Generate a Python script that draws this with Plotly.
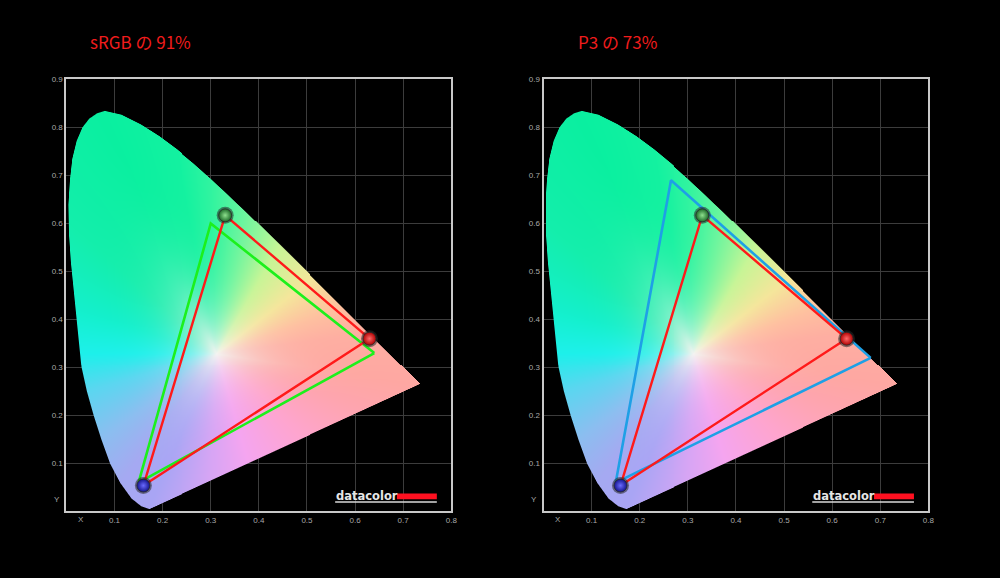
import base64
import struct
import zlib

import numpy as np
import plotly.graph_objects as go

# ---------------- data ----------------
# spectral locus outline (spectral order: violet end -> peak -> red end)
locus_x = [0.172, 0.155, 0.135, 0.112, 0.091, 0.073, 0.057, 0.043, 0.032, 0.026,
           0.020, 0.015, 0.010, 0.006, 0.005, 0.008, 0.013, 0.022, 0.034, 0.048,
           0.064, 0.080, 0.1142, 0.1547, 0.1929, 0.2296, 0.2658, 0.3016, 0.3373,
           0.3731, 0.4087, 0.4441, 0.4788, 0.5125, 0.5448, 0.5752, 0.6029, 0.6270,
           0.6482, 0.6658, 0.6801, 0.6915, 0.7006, 0.7079, 0.7140, 0.7190, 0.7230,
           0.7260, 0.7300, 0.7347]
locus_y = [0.006, 0.012, 0.028, 0.060, 0.100, 0.150, 0.200, 0.250, 0.300, 0.360,
           0.420, 0.470, 0.520, 0.580, 0.640, 0.690, 0.735, 0.772, 0.800, 0.818,
           0.829, 0.834, 0.8262, 0.8059, 0.7816, 0.7543, 0.7243, 0.6923, 0.6589,
           0.6245, 0.5896, 0.5547, 0.5202, 0.4866, 0.4544, 0.4242, 0.3965, 0.3725,
           0.3514, 0.3340, 0.3197, 0.3083, 0.2993, 0.2920, 0.2859, 0.2809, 0.2770,
           0.2740, 0.2700, 0.2653]
white_x, white_y = 0.3127, 0.3290

# fill colours of the diagram by direction from the white point (degrees)
hue_deg = [7.9, 19.9, 38.3, 59.8, 78.4, 91.7, 101.0, 114.7, 138.7, 162.7, 180.0,
           196.0, 216.7, 233.0, 246.4, 267.0, 286.0, 317.0, 339.0, 351.4]
hue_r = [255, 255, 245, 200, 110, 50, 20, 10, 20, 20, 30, 90, 140, 165, 170, 215, 245, 255, 255, 255]
hue_g = [175, 192, 230, 245, 246, 244, 242, 240, 238, 240, 240, 215, 190, 170, 165, 165, 165, 165, 165, 168]
hue_b = [162, 160, 155, 150, 158, 160, 160, 160, 172, 205, 235, 240, 240, 242, 245, 245, 240, 205, 175, 162]
white_rgb = [244, 244, 242]

# gamut triangles (R, G, B vertices)
measured_x = [0.630, 0.330, 0.160]
measured_y = [0.360, 0.617, 0.054]
srgb_x = [0.640, 0.300, 0.150]
srgb_y = [0.330, 0.600, 0.060]
p3_x = [0.680, 0.265, 0.150]
p3_y = [0.320, 0.690, 0.060]

titles = ["sRGB の 91%", "P3 の 73%"]
x_ticks = [0.1, 0.2, 0.3, 0.4, 0.5, 0.6, 0.7, 0.8]
y_ticks = [0.1, 0.2, 0.3, 0.4, 0.5, 0.6, 0.7, 0.8, 0.9]
x_range = [0.0, 0.8]
y_range = [0.0, 0.9]

# ---------------- build the horseshoe image ----------------
NX, NY = 388, 435
dxp = (x_range[1] - x_range[0]) / NX
dyp = (y_range[1] - y_range[0]) / NY
xs = x_range[0] + (np.arange(NX) + 0.5) * dxp
ys = y_range[0] + (np.arange(NY) + 0.5) * dyp
X, Y = np.meshgrid(xs, ys)

bx = np.array(locus_x + [locus_x[0]])
by = np.array(locus_y + [locus_y[0]])
t = np.linspace(0, 1, 60, endpoint=False)
px = np.concatenate([bx[k] + (bx[k + 1] - bx[k]) * t for k in range(len(bx) - 1)])
py = np.concatenate([by[k] + (by[k + 1] - by[k]) * t for k in range(len(by) - 1)])
ang_b = np.degrees(np.arctan2(py - white_y, px - white_x)) % 360
dist_b = np.hypot(px - white_x, py - white_y)

ang = np.degrees(np.arctan2(Y - white_y, X - white_x)) % 360
d = np.hypot(X - white_x, Y - white_y)
D = np.interp(ang, ang_b, dist_b, period=360)
r = np.clip(d / D, 0, 1)
alpha = np.clip((D - d) / dxp + 0.5, 0, 1)
f = 1 - (1 - r) ** 4

rgba = np.zeros((NY, NX, 4), dtype=np.uint8)
for c, anchors in enumerate([hue_r, hue_g, hue_b]):
    a = np.interp(ang, hue_deg, anchors, period=360)
    w = white_rgb[c]
    rgba[..., c] = np.clip(w + (a - w) * f, 0, 255).astype(np.uint8)
rgba[..., 3] = (alpha * 255).astype(np.uint8)


def png_data_uri(arr):
    h, w, _ = arr.shape
    raw = b"".join(b"\x00" + arr[j].tobytes() for j in range(h))

    def chunk(tag, data):
        body = tag + data
        return struct.pack(">I", len(data)) + body + struct.pack(">I", zlib.crc32(body) & 0xFFFFFFFF)

    png = (b"\x89PNG\r\n\x1a\n"
           + chunk(b"IHDR", struct.pack(">IIBBBBB", w, h, 8, 6, 0, 0, 0))
           + chunk(b"IDAT", zlib.compress(raw, 9))
           + chunk(b"IEND", b""))
    return "data:image/png;base64," + base64.b64encode(png).decode()


uri = png_data_uri(rgba)

# ---------------- figure ----------------
fig = go.Figure()

panels = [
    dict(x="x", y="y", ref_x=srgb_x, ref_y=srgb_y, ref_color="#1cf01c",
         xdom=[0.0668, 0.4540], title_x=0.141),
    dict(x="x2", y="y2", ref_x=p3_x, ref_y=p3_y, ref_color="#1ea0e6",
         xdom=[0.5468, 0.9340], title_x=0.621),
]
ydom = [0.1159, 0.8685]

sphere_outer = ["#b00000", "#1c6a28", "#14148c"]
sphere_inner = ["#ff6a6a", "#8ee08e", "#6a6aff"]

annotations = []
shapes = []
for i, p in enumerate(panels):
    fig.add_trace(go.Image(source=uri, x0=xs[0], y0=ys[0], dx=dxp, dy=dyp,
                           xaxis=p["x"], yaxis=p["y"], hoverinfo="skip"))
    fig.add_trace(go.Scatter(x=p["ref_x"] + p["ref_x"][:1], y=p["ref_y"] + p["ref_y"][:1],
                             mode="lines", line=dict(color=p["ref_color"], width=2.6),
                             xaxis=p["x"], yaxis=p["y"], hoverinfo="skip"))
    fig.add_trace(go.Scatter(x=measured_x + measured_x[:1], y=measured_y + measured_y[:1],
                             mode="lines", line=dict(color="#ff1a1a", width=2.4),
                             xaxis=p["x"], yaxis=p["y"], hoverinfo="skip"))
    fig.add_trace(go.Scatter(x=measured_x, y=measured_y, mode="markers",
                             marker=dict(size=17, color="rgba(40,40,40,0.55)", line=dict(width=0)),
                             xaxis=p["x"], yaxis=p["y"], hoverinfo="skip"))
    fig.add_trace(go.Scatter(x=measured_x, y=measured_y, mode="markers",
                             marker=dict(size=13, color=sphere_outer,
                                         gradient=dict(type="radial", color=sphere_inner),
                                         line=dict(width=0.8, color="#2a2a2a")),
                             xaxis=p["x"], yaxis=p["y"], hoverinfo="skip"))

    annotations.append(dict(text=titles[i], xref="paper", yref="paper", x=p["title_x"], y=0.934,
                            showarrow=False, xanchor="center", yanchor="middle",
                            font=dict(family="Noto Sans CJK JP", size=17, color="#f01c1c")))
    annotations.append(dict(text="X", xref=p["x"], yref="paper", x=0.031, y=0.102,
                            showarrow=False, xanchor="center", yanchor="middle",
                            font=dict(family="Liberation Sans", size=8, color="#a8a8a8")))
    annotations.append(dict(text="Y", xref="paper", yref=p["y"], x=p["xdom"][0] - 0.0045, y=0.024,
                            showarrow=False, xanchor="right", yanchor="middle",
                            font=dict(family="Liberation Sans", size=8, color="#a8a8a8")))
    # datacolor logo
    annotations.append(dict(text="<b>datacolor</b>", xref=p["x"], yref=p["y"], x=0.557, y=0.0315,
                            showarrow=False, xanchor="left", yanchor="middle",
                            font=dict(family="DejaVu Sans", size=11.5, color="#e6e6e6")))
    shapes.append(dict(type="rect", xref=p["x"], yref=p["y"], x0=0.687, x1=0.770,
                       y0=0.0257, y1=0.0373, fillcolor="#ff1020", line=dict(width=0)))
    shapes.append(dict(type="line", xref=p["x"], yref=p["y"], x0=0.5586, x1=0.770,
                       y0=0.0195, y1=0.0195, line=dict(color="#d8d8d8", width=1.5)))

axis_common = dict(showgrid=True, gridcolor="#3c3c3c", gridwidth=1, zeroline=False,
                   showline=True, linecolor="#c8c8c8", linewidth=2, mirror=True,
                   ticks="", tickfont=dict(family="Liberation Sans", size=8, color="#a8a8a8"),
                   fixedrange=True)

layout = dict(width=1000, height=578, margin=dict(l=0, r=0, t=0, b=0),
              paper_bgcolor="black", plot_bgcolor="black", showlegend=False,
              annotations=annotations, shapes=shapes)
for i, p in enumerate(panels):
    sx = "" if i == 0 else "2"
    layout["xaxis" + sx] = dict(axis_common, domain=p["xdom"], range=x_range, anchor=p["y"],
                                tickvals=x_ticks, ticktext=[f"{v:.1f}" for v in x_ticks])
    layout["yaxis" + sx] = dict(axis_common, domain=ydom, range=y_range, anchor=p["x"],
                                tickvals=y_ticks, ticktext=[f"{v:.1f}" for v in y_ticks],
                                scaleanchor=False, autorange=False)
fig.update_layout(**layout)
fig.write_html("out.html", config={"displayModeBar": False},
               post_script="document.body.style.margin='0';document.body.style.background='black';")
